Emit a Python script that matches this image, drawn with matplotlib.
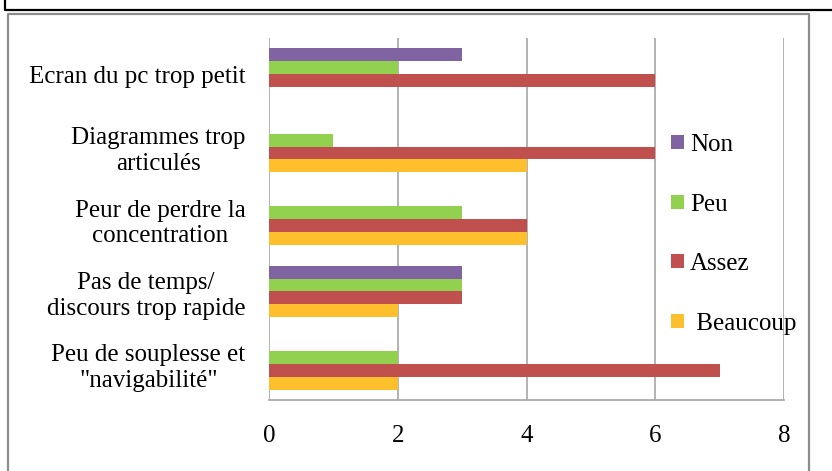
import numpy as np
import matplotlib
matplotlib.use("Agg")
import matplotlib.pyplot as plt
from matplotlib.lines import Line2D
from matplotlib.patches import Patch

# Données
categories = ["Ecran du pc trop petit",
              "Diagrammes trop\narticulés",
              "Peur de perdre la\nconcentration",
              "Pas de temps/\ndiscours trop rapide",
              "Peu de souplesse et\n\"navigabilité\""]
non = [3, 0, 0, 3, 0]
peu = [2, 1, 3, 3, 2]
assez = [6, 6, 4, 3, 7]
beaucoup = [0, 4, 4, 2, 2]

series = [("Non", non, "#8064A2"),
          ("Peu", peu, "#92D050"),
          ("Assez", assez, "#C0504D"),
          (" Beaucoup", beaucoup, "#FDC02C")]

W, H = 832, 471
plt.rcParams['font.family'] = ['Liberation Serif', 'DejaVu Serif']

fig = plt.figure(figsize=(W / 100, H / 100), dpi=100)


def fx(px):
    return px / W


def fy(py):
    return 1 - py / H


# cadre du document (ligne noire) et bordure grise du graphique
fig.add_artist(Line2D([fx(5), fx(5), fx(832)], [fy(-2), fy(10), fy(10)],
                      transform=fig.transFigure, color="black", lw=1.6))
fig.add_artist(Line2D([fx(8), fx(8), fx(809), fx(809)], [fy(480), fy(14), fy(14), fy(480)],
                      transform=fig.transFigure, color="#8c8c8c", lw=1.6))

ax = fig.add_axes([fx(269), fy(400), fx(784) - fx(269), fy(38) - fy(400)])

y = np.arange(len(categories))
h = 0.178
offsets = [-1.5 * h, -0.5 * h, 0.5 * h, 1.5 * h]
handles = []
for (nom, vals, col), off in zip(series, offsets):
    ax.barh(y + off, vals, height=h, color=col, linewidth=0, zorder=3)
    handles.append(Patch(facecolor=col, edgecolor="none", label=nom))

ax.set_xlim(0, 8)
ax.set_ylim(len(categories) - 0.5, -0.5)
ax.set_xticks([0, 2, 4, 6, 8])
ax.set_yticks(y)
ax.set_yticklabels(categories, fontsize=18, ha="right", multialignment="center",
                   linespacing=1.22)
ax.tick_params(axis="y", length=0, pad=17)
ax.tick_params(axis="x", length=0, pad=18, labelsize=18)
ax.grid(axis="x", color="#a6a6a6", lw=1.2, zorder=0)
for s in ["top", "right", "left"]:
    ax.spines[s].set_visible(False)
ax.spines["bottom"].set_color("#a6a6a6")
ax.spines["bottom"].set_linewidth(1.2)

ax.legend(handles=handles, loc="upper left", bbox_to_anchor=(0.762, 0.762),
          frameon=False, fontsize=18, handlelength=0.5, handleheight=0.5,
          handletextpad=0.25, labelspacing=1.5, borderaxespad=0)

fig.savefig("out.png", dpi=100)
